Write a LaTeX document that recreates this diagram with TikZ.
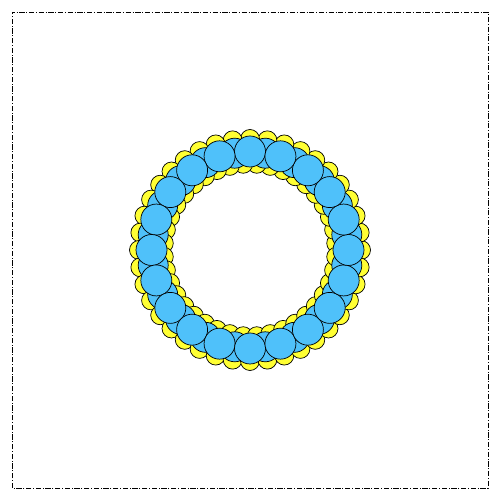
\documentclass[tikz,border=0pt]{standalone}
\usepackage{tikz}
\usepackage{xcolor}
\definecolor{headblue}{RGB}{79,193,250}
\definecolor{tailyellow}{RGB}{255,255,51}

\begin{document}
\begin{tikzpicture}[
    frame/.style={draw, thin, dash pattern=on 3pt off 1pt on 0.5pt off 1pt},
    yellowbead/.style={draw, thin, fill=tailyellow},
    bluebead/.style={draw, thin, fill=headblue}
]
    % Frame
    \useasboundingbox (0,0) rectangle (10,10);
    \draw[frame] (0.24,0.24) rectangle (9.76,9.76);

    % Outer and inner yellow rings
    \foreach \a in {0,9,...,351} {
        \draw[yellowbead] (5,5) ++(\a:2.22) circle (0.19);
        \draw[yellowbead] (5,5) ++(\a+4.5:1.73) circle (0.19);
    }

    % Blue ring, back and front
    \foreach \a in {0,18,...,342} {
        \draw[bluebead] (5,5) ++(\a+9:1.96) circle (0.3);
    }
    \foreach \a in {0,18,...,342} {
        \draw[bluebead] (5,5) ++(\a+90:1.97) circle (0.31);
    }
\end{tikzpicture}
\end{document}
